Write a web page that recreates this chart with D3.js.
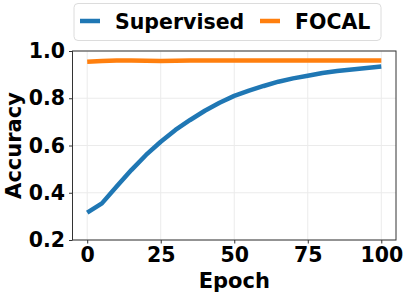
<!DOCTYPE html>
<html>
<head>
<meta charset="utf-8">
<script src="https://cdn.jsdelivr.net/npm/d3@7"></script>
<style>
  body { margin:0; background:#fff; }
  text { font-family: "DejaVu Sans", sans-serif; font-weight: bold; }
</style>
</head>
<body>
<div id="chart-area"></div>
<script>
// data
const epochs = [0,5,10,15,20,25,30,35,40,45,50,55,60,65,70,75,80,85,90,95,100];
const supervised = [0.316,0.355,0.426,0.496,0.56,0.616,0.666,0.708,0.747,0.781,0.81,0.832,0.852,0.87,0.884,0.895,0.907,0.915,0.922,0.928,0.934];
const focal = [0.955,0.958,0.960,0.960,0.959,0.958,0.959,0.960,0.960,0.960,0.960,0.960,0.960,0.960,0.960,0.960,0.960,0.960,0.960,0.960,0.960];
const xTicks = [0,25,50,75,100];
const yTicks = [0.2,0.4,0.6,0.8,1.0];
const seriesNames = ["Supervised","FOCAL"];
const colors = ["#1f77b4","#ff7f0e"];

const margin = { left:72.5, right:11, top:51, bottom:56 };
const W = 407, H = 296;
const width = W - margin.left - margin.right,
      height = H - margin.top - margin.bottom;

var svg = d3.select("#chart-area")
    .append("svg")
    .attr("width", W)
    .attr("height", H);

const g = svg.append("g")
    .attr("transform", "translate(" + margin.left + ", " + margin.top + ")");

const x = d3.scaleLinear().domain([-5,105]).range([0,width]);
const y = d3.scaleLinear().domain([0.2,1.0]).range([height,0]);

// grid
g.append("g").selectAll("line").data(xTicks).enter().append("line")
    .attr("x1", d => x(d)).attr("x2", d => x(d))
    .attr("y1", 0).attr("y2", height)
    .attr("stroke", "#ebebeb").attr("stroke-width", 1);
g.append("g").selectAll("line").data(yTicks).enter().append("line")
    .attr("x1", 0).attr("x2", width)
    .attr("y1", d => y(d)).attr("y2", d => y(d))
    .attr("stroke", "#ebebeb").attr("stroke-width", 1);

// axes
var xAxisCall = d3.axisBottom(x).tickValues(xTicks).tickSize(3.5).tickPadding(4)
    .tickFormat(d3.format("d"));
var xAx = g.append("g")
    .attr("transform", "translate(0, " + height + ")")
    .call(xAxisCall);
var yAxisCall = d3.axisLeft(y).tickValues(yTicks).tickSize(3.5).tickPadding(4)
    .tickFormat(d3.format(".1f"));
var yAx = g.append("g").call(yAxisCall);

[xAx, yAx].forEach(function(a){
    a.select(".domain").remove();
    a.selectAll("line").attr("stroke", "#333").attr("stroke-width", 1);
    a.selectAll("text").attr("font-size", "20.5px").attr("fill", "#000")
        .attr("font-family", "DejaVu Sans").attr("font-weight", "bold");
});

// lines
const line = d3.line().x((d,i) => x(epochs[i])).y(d => y(d));
[supervised, focal].forEach(function(s, i){
    g.append("path")
        .datum(s)
        .attr("d", line)
        .attr("fill", "none")
        .attr("stroke", colors[i])
        .attr("stroke-width", 4.5)
        .attr("stroke-linejoin", "round");
});

// frame
g.append("rect")
    .attr("width", width).attr("height", height)
    .attr("fill", "none").attr("stroke", "#333").attr("stroke-width", 1);

// labels
svg.append("text")
    .attr("x", margin.left + width/2)
    .attr("y", 288)
    .attr("font-size", "21px")
    .attr("text-anchor", "middle")
    .text("Epoch");
svg.append("text")
    .attr("transform", "translate(21," + (margin.top + height/2) + ") rotate(-90)")
    .attr("font-size", "21px")
    .attr("text-anchor", "middle")
    .text("Accuracy");

// legend
const leg = svg.append("g");
leg.append("rect")
    .attr("x", 74).attr("y", 3.5).attr("width", 307).attr("height", 37)
    .attr("rx", 4).attr("fill", "#fff").attr("stroke", "#dcdcdc").attr("stroke-width", 1);
const legX = [80, 260];
const legTx = [115, 295];
seriesNames.forEach(function(n, i){
    leg.append("line")
        .attr("x1", legX[i]).attr("x2", legX[i] + 20)
        .attr("y1", 21).attr("y2", 21)
        .attr("stroke", colors[i]).attr("stroke-width", 4.5);
    leg.append("text")
        .attr("x", legTx[i]).attr("y", 28.5)
        .attr("font-size", "20.5px")
        .text(n);
});
</script>
</body>
</html>
